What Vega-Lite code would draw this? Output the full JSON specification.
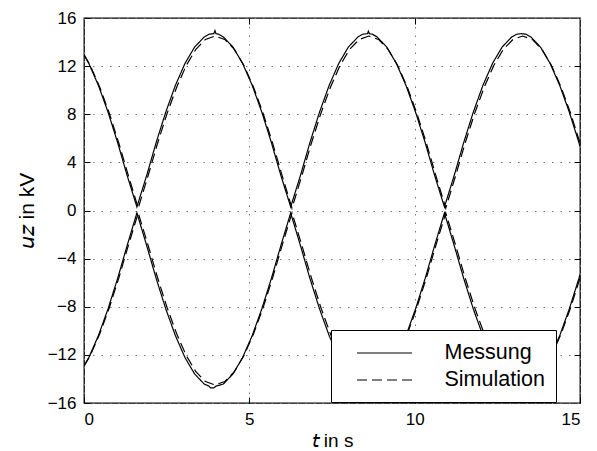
{
  "$schema": "https://vega.github.io/schema/vega-lite/v6.json",
  "autosize": "none",
  "width": 496,
  "height": 385,
  "padding": {"left": 84, "top": 18, "right": 17, "bottom": 48},
  "background": "white",
  "config": {
    "font": "Liberation Sans",
    "view": {"stroke": "black", "strokeWidth": 1.3},
    "axis": {
      "domain": false,
      "labelFont": "Liberation Sans",
      "labelFontSize": 17,
      "labelColor": "black",
      "titleFont": "Liberation Sans",
      "titleFontSize": 19,
      "titleFontWeight": "normal",
      "titleColor": "black",
      "tickColor": "black",
      "tickSize": -6,
      "tickWidth": 1,
      "gridColor": "#777777",
      "gridDash": [1.5, 7],
      "gridWidth": 1
    },
    "legend": {
      "orient": "none",
      "legendX": 247,
      "legendY": 312,
      "fillColor": "white",
      "strokeColor": "black",
      "padding": 11,
      "symbolType": "M-2.5,0H2.5",
      "symbolSize": 484,
      "symbolOffset": 30.5,
      "symbolStrokeColor": "black",
      "symbolStrokeWidth": 1.2,
      "symbolFillColor": "transparent",
      "labelFont": "Liberation Sans",
      "labelFontSize": 21.5,
      "labelColor": "black",
      "labelOffset": 48,
      "labelExpr": "datum.label + '\u00a0\u00a0\u00a0\u00a0\u00a0'",
      "rowPadding": 4
    }
  },
  "data": {"values": [
    {"s":"Messung","b":"o","t":0,"u":12.97},
    {"s":"Messung","b":"o","t":0.147,"u":12.22},
    {"s":"Messung","b":"o","t":0.437,"u":10.39},
    {"s":"Messung","b":"o","t":0.728,"u":8.17},
    {"s":"Messung","b":"o","t":1.019,"u":5.63},
    {"s":"Messung","b":"o","t":1.309,"u":2.87},
    {"s":"Messung","b":"o","t":1.6,"u":0.3},
    {"s":"Messung","b":"o","t":1.891,"u":2.87},
    {"s":"Messung","b":"o","t":2.181,"u":5.63},
    {"s":"Messung","b":"o","t":2.472,"u":8.17},
    {"s":"Messung","b":"o","t":2.763,"u":10.39},
    {"s":"Messung","b":"o","t":3.053,"u":12.22},
    {"s":"Messung","b":"o","t":3.344,"u":13.58},
    {"s":"Messung","b":"o","t":3.634,"u":14.42},
    {"s":"Messung","b":"o","t":3.78,"u":14.65},
    {"s":"Messung","b":"o","t":3.925,"u":14.7},
    {"s":"Messung","b":"o","t":3.96,"u":14.95},
    {"s":"Messung","b":"o","t":3.99,"u":14.7},
    {"s":"Messung","b":"o","t":4.07,"u":14.65},
    {"s":"Messung","b":"o","t":4.216,"u":14.42},
    {"s":"Messung","b":"o","t":4.506,"u":13.58},
    {"s":"Messung","b":"o","t":4.797,"u":12.22},
    {"s":"Messung","b":"o","t":5.088,"u":10.39},
    {"s":"Messung","b":"o","t":5.378,"u":8.17},
    {"s":"Messung","b":"o","t":5.669,"u":5.63},
    {"s":"Messung","b":"o","t":5.959,"u":2.87},
    {"s":"Messung","b":"o","t":6.25,"u":0.3},
    {"s":"Messung","b":"o","t":6.541,"u":2.87},
    {"s":"Messung","b":"o","t":6.831,"u":5.63},
    {"s":"Messung","b":"o","t":7.122,"u":8.17},
    {"s":"Messung","b":"o","t":7.413,"u":10.39},
    {"s":"Messung","b":"o","t":7.703,"u":12.22},
    {"s":"Messung","b":"o","t":7.994,"u":13.58},
    {"s":"Messung","b":"o","t":8.284,"u":14.42},
    {"s":"Messung","b":"o","t":8.43,"u":14.65},
    {"s":"Messung","b":"o","t":8.575,"u":14.7},
    {"s":"Messung","b":"o","t":8.6,"u":14.9},
    {"s":"Messung","b":"o","t":8.63,"u":14.7},
    {"s":"Messung","b":"o","t":8.72,"u":14.65},
    {"s":"Messung","b":"o","t":8.866,"u":14.42},
    {"s":"Messung","b":"o","t":9.156,"u":13.58},
    {"s":"Messung","b":"o","t":9.447,"u":12.22},
    {"s":"Messung","b":"o","t":9.738,"u":10.39},
    {"s":"Messung","b":"o","t":10.028,"u":8.17},
    {"s":"Messung","b":"o","t":10.319,"u":5.63},
    {"s":"Messung","b":"o","t":10.609,"u":2.87},
    {"s":"Messung","b":"o","t":10.9,"u":0.3},
    {"s":"Messung","b":"o","t":11.191,"u":2.87},
    {"s":"Messung","b":"o","t":11.481,"u":5.63},
    {"s":"Messung","b":"o","t":11.772,"u":8.17},
    {"s":"Messung","b":"o","t":12.063,"u":10.39},
    {"s":"Messung","b":"o","t":12.353,"u":12.22},
    {"s":"Messung","b":"o","t":12.644,"u":13.58},
    {"s":"Messung","b":"o","t":12.934,"u":14.42},
    {"s":"Messung","b":"o","t":13.08,"u":14.65},
    {"s":"Messung","b":"o","t":13.225,"u":14.7},
    {"s":"Messung","b":"o","t":13.37,"u":14.65},
    {"s":"Messung","b":"o","t":13.516,"u":14.42},
    {"s":"Messung","b":"o","t":13.806,"u":13.58},
    {"s":"Messung","b":"o","t":14.097,"u":12.22},
    {"s":"Messung","b":"o","t":14.388,"u":10.39},
    {"s":"Messung","b":"o","t":14.678,"u":8.17},
    {"s":"Messung","b":"o","t":14.969,"u":5.63},
    {"s":"Messung","b":"o","t":15,"u":5.31},

    {"s":"Messung","b":"u","t":0,"u":-12.9},
    {"s":"Messung","b":"u","t":0.147,"u":-12.22},
    {"s":"Messung","b":"u","t":0.437,"u":-10.39},
    {"s":"Messung","b":"u","t":0.728,"u":-8.17},
    {"s":"Messung","b":"u","t":1.019,"u":-5.63},
    {"s":"Messung","b":"u","t":1.309,"u":-2.87},
    {"s":"Messung","b":"u","t":1.6,"u":-0.2},
    {"s":"Messung","b":"u","t":1.891,"u":-2.87},
    {"s":"Messung","b":"u","t":2.181,"u":-5.63},
    {"s":"Messung","b":"u","t":2.472,"u":-8.17},
    {"s":"Messung","b":"u","t":2.763,"u":-10.39},
    {"s":"Messung","b":"u","t":3.053,"u":-12.22},
    {"s":"Messung","b":"u","t":3.344,"u":-13.58},
    {"s":"Messung","b":"u","t":3.634,"u":-14.42},
    {"s":"Messung","b":"u","t":3.78,"u":-14.6},
    {"s":"Messung","b":"u","t":3.83,"u":-14.75},
    {"s":"Messung","b":"u","t":3.925,"u":-14.75},
    {"s":"Messung","b":"u","t":3.99,"u":-14.6},
    {"s":"Messung","b":"u","t":4.216,"u":-14.42},
    {"s":"Messung","b":"u","t":4.506,"u":-13.58},
    {"s":"Messung","b":"u","t":4.797,"u":-12.22},
    {"s":"Messung","b":"u","t":5.088,"u":-10.39},
    {"s":"Messung","b":"u","t":5.378,"u":-8.17},
    {"s":"Messung","b":"u","t":5.669,"u":-5.63},
    {"s":"Messung","b":"u","t":5.959,"u":-2.87},
    {"s":"Messung","b":"u","t":6.25,"u":-0.2},
    {"s":"Messung","b":"u","t":6.541,"u":-2.87},
    {"s":"Messung","b":"u","t":6.831,"u":-5.63},
    {"s":"Messung","b":"u","t":7.122,"u":-8.17},
    {"s":"Messung","b":"u","t":7.413,"u":-10.39},
    {"s":"Messung","b":"u","t":7.703,"u":-12.22},
    {"s":"Messung","b":"u","t":7.994,"u":-13.58},
    {"s":"Messung","b":"u","t":8.284,"u":-14.42},
    {"s":"Messung","b":"u","t":8.575,"u":-14.7},
    {"s":"Messung","b":"u","t":8.866,"u":-14.42},
    {"s":"Messung","b":"u","t":9.156,"u":-13.58},
    {"s":"Messung","b":"u","t":9.447,"u":-12.22},
    {"s":"Messung","b":"u","t":9.738,"u":-10.39},
    {"s":"Messung","b":"u","t":10.028,"u":-8.17},
    {"s":"Messung","b":"u","t":10.319,"u":-5.63},
    {"s":"Messung","b":"u","t":10.609,"u":-2.87},
    {"s":"Messung","b":"u","t":10.9,"u":-0.2},
    {"s":"Messung","b":"u","t":11.191,"u":-2.87},
    {"s":"Messung","b":"u","t":11.481,"u":-5.63},
    {"s":"Messung","b":"u","t":11.772,"u":-8.17},
    {"s":"Messung","b":"u","t":12.063,"u":-10.39},
    {"s":"Messung","b":"u","t":12.353,"u":-12.22},
    {"s":"Messung","b":"u","t":12.644,"u":-13.58},
    {"s":"Messung","b":"u","t":12.934,"u":-14.42},
    {"s":"Messung","b":"u","t":13.225,"u":-14.7},
    {"s":"Messung","b":"u","t":13.516,"u":-14.42},
    {"s":"Messung","b":"u","t":13.806,"u":-13.58},
    {"s":"Messung","b":"u","t":14.097,"u":-12.22},
    {"s":"Messung","b":"u","t":14.388,"u":-10.39},
    {"s":"Messung","b":"u","t":14.678,"u":-8.17},
    {"s":"Messung","b":"u","t":14.969,"u":-5.63},
    {"s":"Messung","b":"u","t":15,"u":-5.31},

    {"s":"Simulation","b":"o","t":0,"u":12.95},
    {"s":"Simulation","b":"o","t":0.187,"u":12.06},
    {"s":"Simulation","b":"o","t":0.477,"u":10.25},
    {"s":"Simulation","b":"o","t":0.768,"u":8.06},
    {"s":"Simulation","b":"o","t":1.059,"u":5.55},
    {"s":"Simulation","b":"o","t":1.349,"u":2.83},
    {"s":"Simulation","b":"o","t":1.64,"u":0.2},
    {"s":"Simulation","b":"o","t":1.931,"u":2.83},
    {"s":"Simulation","b":"o","t":2.221,"u":5.55},
    {"s":"Simulation","b":"o","t":2.512,"u":8.06},
    {"s":"Simulation","b":"o","t":2.803,"u":10.25},
    {"s":"Simulation","b":"o","t":3.093,"u":12.06},
    {"s":"Simulation","b":"o","t":3.384,"u":13.4},
    {"s":"Simulation","b":"o","t":3.674,"u":14.22},
    {"s":"Simulation","b":"o","t":3.965,"u":14.5},
    {"s":"Simulation","b":"o","t":4.256,"u":14.22},
    {"s":"Simulation","b":"o","t":4.546,"u":13.4},
    {"s":"Simulation","b":"o","t":4.837,"u":12.06},
    {"s":"Simulation","b":"o","t":5.128,"u":10.25},
    {"s":"Simulation","b":"o","t":5.418,"u":8.06},
    {"s":"Simulation","b":"o","t":5.709,"u":5.55},
    {"s":"Simulation","b":"o","t":5.999,"u":2.83},
    {"s":"Simulation","b":"o","t":6.29,"u":0.2},
    {"s":"Simulation","b":"o","t":6.581,"u":2.83},
    {"s":"Simulation","b":"o","t":6.871,"u":5.55},
    {"s":"Simulation","b":"o","t":7.162,"u":8.06},
    {"s":"Simulation","b":"o","t":7.453,"u":10.25},
    {"s":"Simulation","b":"o","t":7.743,"u":12.06},
    {"s":"Simulation","b":"o","t":8.034,"u":13.4},
    {"s":"Simulation","b":"o","t":8.324,"u":14.22},
    {"s":"Simulation","b":"o","t":8.615,"u":14.5},
    {"s":"Simulation","b":"o","t":8.906,"u":14.22},
    {"s":"Simulation","b":"o","t":9.196,"u":13.4},
    {"s":"Simulation","b":"o","t":9.487,"u":12.06},
    {"s":"Simulation","b":"o","t":9.778,"u":10.25},
    {"s":"Simulation","b":"o","t":10.068,"u":8.06},
    {"s":"Simulation","b":"o","t":10.359,"u":5.55},
    {"s":"Simulation","b":"o","t":10.649,"u":2.83},
    {"s":"Simulation","b":"o","t":10.94,"u":0.2},
    {"s":"Simulation","b":"o","t":11.231,"u":2.83},
    {"s":"Simulation","b":"o","t":11.521,"u":5.55},
    {"s":"Simulation","b":"o","t":11.812,"u":8.06},
    {"s":"Simulation","b":"o","t":12.103,"u":10.25},
    {"s":"Simulation","b":"o","t":12.393,"u":12.06},
    {"s":"Simulation","b":"o","t":12.684,"u":13.4},
    {"s":"Simulation","b":"o","t":12.974,"u":14.22},
    {"s":"Simulation","b":"o","t":13.265,"u":14.5},
    {"s":"Simulation","b":"o","t":13.556,"u":14.22},
    {"s":"Simulation","b":"o","t":13.846,"u":13.4},
    {"s":"Simulation","b":"o","t":14.137,"u":12.06},
    {"s":"Simulation","b":"o","t":14.428,"u":10.25},
    {"s":"Simulation","b":"o","t":14.718,"u":8.06},
    {"s":"Simulation","b":"o","t":15,"u":5.61},

    {"s":"Simulation","b":"u","t":0,"u":-12.95},
    {"s":"Simulation","b":"u","t":0.187,"u":-12.06},
    {"s":"Simulation","b":"u","t":0.477,"u":-10.25},
    {"s":"Simulation","b":"u","t":0.768,"u":-8.06},
    {"s":"Simulation","b":"u","t":1.059,"u":-5.55},
    {"s":"Simulation","b":"u","t":1.349,"u":-2.83},
    {"s":"Simulation","b":"u","t":1.64,"u":-0.2},
    {"s":"Simulation","b":"u","t":1.931,"u":-2.83},
    {"s":"Simulation","b":"u","t":2.221,"u":-5.55},
    {"s":"Simulation","b":"u","t":2.512,"u":-8.06},
    {"s":"Simulation","b":"u","t":2.803,"u":-10.25},
    {"s":"Simulation","b":"u","t":3.093,"u":-12.06},
    {"s":"Simulation","b":"u","t":3.384,"u":-13.4},
    {"s":"Simulation","b":"u","t":3.674,"u":-14.22},
    {"s":"Simulation","b":"u","t":3.965,"u":-14.5},
    {"s":"Simulation","b":"u","t":4.256,"u":-14.22},
    {"s":"Simulation","b":"u","t":4.546,"u":-13.4},
    {"s":"Simulation","b":"u","t":4.837,"u":-12.06},
    {"s":"Simulation","b":"u","t":5.128,"u":-10.25},
    {"s":"Simulation","b":"u","t":5.418,"u":-8.06},
    {"s":"Simulation","b":"u","t":5.709,"u":-5.55},
    {"s":"Simulation","b":"u","t":5.999,"u":-2.83},
    {"s":"Simulation","b":"u","t":6.29,"u":-0.2},
    {"s":"Simulation","b":"u","t":6.581,"u":-2.83},
    {"s":"Simulation","b":"u","t":6.871,"u":-5.55},
    {"s":"Simulation","b":"u","t":7.162,"u":-8.06},
    {"s":"Simulation","b":"u","t":7.453,"u":-10.25},
    {"s":"Simulation","b":"u","t":7.743,"u":-12.06},
    {"s":"Simulation","b":"u","t":8.034,"u":-13.4},
    {"s":"Simulation","b":"u","t":8.324,"u":-14.22},
    {"s":"Simulation","b":"u","t":8.615,"u":-14.5},
    {"s":"Simulation","b":"u","t":8.906,"u":-14.22},
    {"s":"Simulation","b":"u","t":9.196,"u":-13.4},
    {"s":"Simulation","b":"u","t":9.487,"u":-12.06},
    {"s":"Simulation","b":"u","t":9.778,"u":-10.25},
    {"s":"Simulation","b":"u","t":10.068,"u":-8.06},
    {"s":"Simulation","b":"u","t":10.359,"u":-5.55},
    {"s":"Simulation","b":"u","t":10.649,"u":-2.83},
    {"s":"Simulation","b":"u","t":10.94,"u":-0.2},
    {"s":"Simulation","b":"u","t":11.231,"u":-2.83},
    {"s":"Simulation","b":"u","t":11.521,"u":-5.55},
    {"s":"Simulation","b":"u","t":11.812,"u":-8.06},
    {"s":"Simulation","b":"u","t":12.103,"u":-10.25},
    {"s":"Simulation","b":"u","t":12.393,"u":-12.06},
    {"s":"Simulation","b":"u","t":12.684,"u":-13.4},
    {"s":"Simulation","b":"u","t":12.974,"u":-14.22},
    {"s":"Simulation","b":"u","t":13.265,"u":-14.5},
    {"s":"Simulation","b":"u","t":13.556,"u":-14.22},
    {"s":"Simulation","b":"u","t":13.846,"u":-13.4},
    {"s":"Simulation","b":"u","t":14.137,"u":-12.06},
    {"s":"Simulation","b":"u","t":14.428,"u":-10.25},
    {"s":"Simulation","b":"u","t":14.718,"u":-8.06},
    {"s":"Simulation","b":"u","t":15,"u":-5.61}
  ]},
  "layer": [
    {
      "mark": {"type": "line", "color": "black", "strokeWidth": 1.2, "clip": true},
      "encoding": {
        "x": {"field": "t", "type": "quantitative",
              "scale": {"domain": [0, 15], "nice": false, "zero": false},
              "axis": {"values": [0, 5, 10, 15], "title": "𝘵 in s", "labelPadding": 14, "titlePadding": 4, "grid": true}},
        "y": {"field": "u", "type": "quantitative",
              "scale": {"domain": [-16, 16], "nice": false},
              "axis": {"values": [-16, -12, -8, -4, 0, 4, 8, 12, 16], "title": "𝘶𝘻 in kV", "titleFontSize": 21, "labelPadding": 14, "titlePadding": 10, "grid": true}},
        "strokeDash": {"field": "s", "type": "nominal",
              "scale": {"domain": ["Messung", "Simulation"], "range": [[1, 0], [10, 5]]},
              "legend": {"title": null}},
        "detail": {"field": "b", "type": "nominal"},
        "order": {"field": "t", "type": "quantitative"}
      }
    },
    {
      "mark": {"type": "line", "strokeOpacity": 0},
      "encoding": {
        "x": {"field": "t", "type": "quantitative",
              "axis": {"orient": "top", "values": [5, 10], "labels": false, "title": null, "grid": false}},
        "y": {"field": "u", "type": "quantitative",
              "axis": {"orient": "right", "values": [-12, -8, -4, 0, 4, 8, 12], "labels": false, "title": null, "grid": false}},
        "detail": {"field": "b", "type": "nominal"}
      }
    }
  ],
  "resolve": {"axis": {"x": "independent", "y": "independent"}}
}
